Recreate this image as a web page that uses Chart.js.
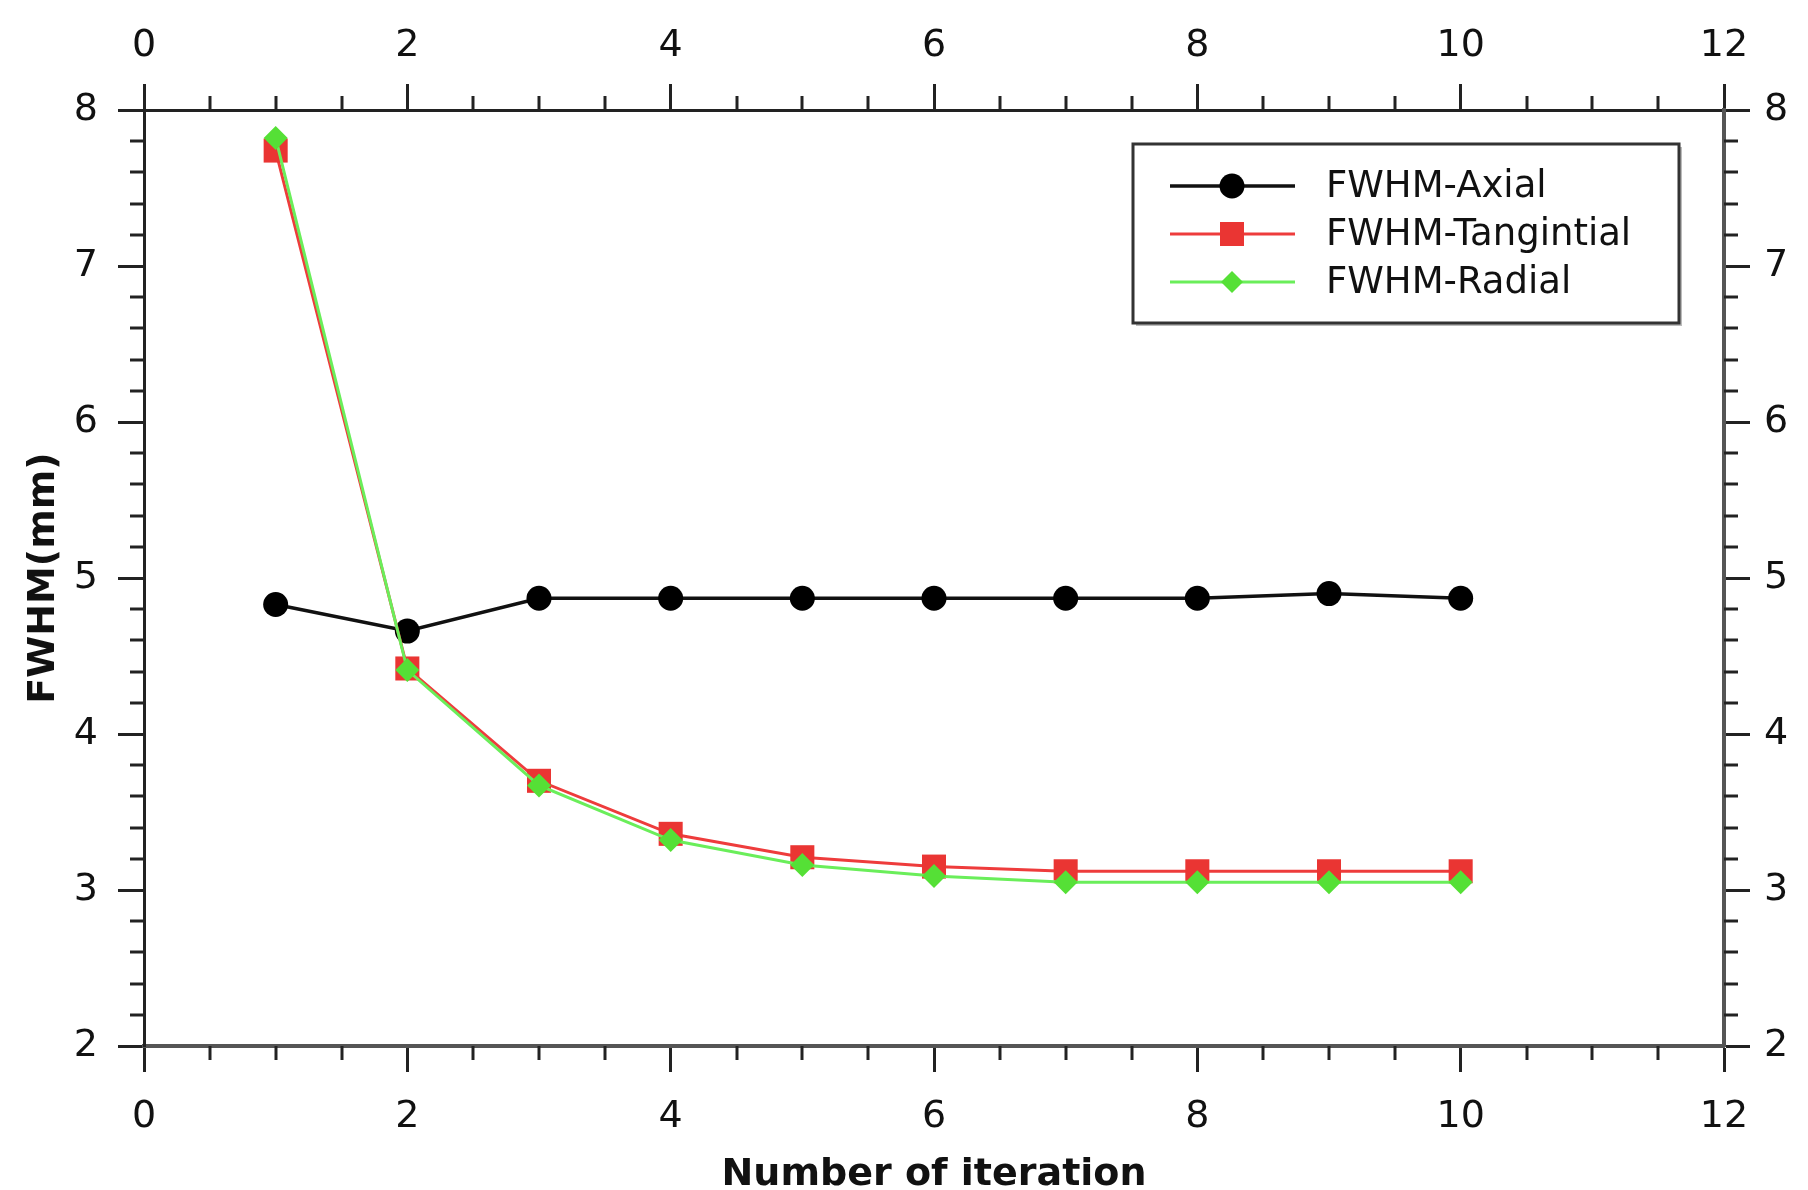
<!DOCTYPE html>
<html>
<head>
<meta charset="utf-8">
<script src="https://cdn.jsdelivr.net/npm/chart.js"></script>
<style>
  html, body { margin: 0; padding: 0; background: #fff; }
  canvas { display: block; }
</style>
</head>
<body>
<canvas id="fwhmChart" width="1808" height="1190"></canvas>
<script>
// values
var iterations = [1, 2, 3, 4, 5, 6, 7, 8, 9, 10];
var fwhmAxial = [4.83, 4.66, 4.87, 4.87, 4.87, 4.87, 4.87, 4.87, 4.90, 4.87];
var fwhmTangential = [7.74, 4.42, 3.70, 3.36, 3.21, 3.15, 3.12, 3.12, 3.12, 3.12];
var fwhmRadial = [7.82, 4.41, 3.67, 3.32, 3.16, 3.09, 3.05, 3.05, 3.05, 3.05];
var seriesNames = ['FWHM-Axial', 'FWHM-Tangintial', 'FWHM-Radial'];
var xTickValues = [0, 2, 4, 6, 8, 10, 12];
var yTickValues = [2, 3, 4, 5, 6, 7, 8];

var FONT = "'DejaVu Sans', Verdana, sans-serif";

function pts(ys) {
  return iterations.map(function (x, i) { return {x: x, y: ys[i]}; });
}

function drawMarker(ctx, style, r, x, y) {
  ctx.beginPath();
  if (style === 'circle') {
    ctx.arc(x, y, r, 0, Math.PI * 2);
  } else if (style === 'rect') {
    var s = r * Math.SQRT1_2;
    ctx.rect(x - s, y - s, 2 * s, 2 * s);
  } else {
    ctx.moveTo(x, y - r);
    ctx.lineTo(x + r, y);
    ctx.lineTo(x, y + r);
    ctx.lineTo(x - r, y);
    ctx.closePath();
  }
  ctx.fill();
}

// minor ticks on all four sides
var minorTicks = {
  id: 'minorTicks',
  afterDraw: function (chart) {
    var ctx = chart.ctx, a = chart.chartArea, len = 14;
    ctx.save();
    ctx.strokeStyle = '#222';
    ctx.lineWidth = 3;
    ['x', 'x2', 'y', 'y2'].forEach(function (id) {
      var s = chart.scales[id];
      var step = s.isHorizontal() ? 0.5 : 0.2;
      var major = s.isHorizontal() ? xTickValues : yTickValues;
      var n = Math.round((s.max - s.min) / step);
      for (var k = 0; k <= n; k++) {
        var v = s.min + k * step;
        if (major.some(function (m) { return Math.abs(m - v) < 1e-6; })) continue;
        var p = Math.round(s.getPixelForValue(v));
        ctx.beginPath();
        if (s.position === 'bottom') { ctx.moveTo(p, a.bottom); ctx.lineTo(p, a.bottom + len); }
        else if (s.position === 'top') { ctx.moveTo(p, a.top); ctx.lineTo(p, a.top - len); }
        else if (s.position === 'left') { ctx.moveTo(a.left, p); ctx.lineTo(a.left - len, p); }
        else { ctx.moveTo(a.right, p); ctx.lineTo(a.right + len, p); }
        ctx.stroke();
      }
    });
    ctx.restore();
  }
};

// boxed legend with line + marker samples
var boxLegend = {
  id: 'boxLegend',
  afterDraw: function (chart) {
    var ctx = chart.ctx, a = chart.chartArea;
    var bx = a.right - 591, by = a.top + 34, bw = 546, bh = 179;
    ctx.save();
    ctx.fillStyle = '#bbb';
    ctx.fillRect(bx + 3, by + 3, bw, bh);
    ctx.fillStyle = '#fff';
    ctx.fillRect(bx, by, bw, bh);
    ctx.strokeStyle = '#333';
    ctx.lineWidth = 3;
    ctx.strokeRect(bx, by, bw, bh);
    chart.data.datasets.forEach(function (ds, i) {
      var y = by + 42 + i * 48;
      ctx.strokeStyle = ds.borderColor;
      ctx.lineWidth = ds.borderWidth;
      ctx.beginPath();
      ctx.moveTo(bx + 37, y);
      ctx.lineTo(bx + 162, y);
      ctx.stroke();
      ctx.fillStyle = ds.pointBackgroundColor;
      drawMarker(ctx, ds.pointStyle, ds.legendRadius, bx + 99, y);
      ctx.fillStyle = '#111';
      ctx.font = '37px ' + FONT;
      ctx.textBaseline = 'middle';
      ctx.textAlign = 'left';
      ctx.fillText(ds.label, bx + 193, y + 1);
    });
    ctx.restore();
  }
};

function xAxis(pos, height, pad) {
  return {
    type: 'linear',
    position: pos,
    min: 0,
    max: 12,
    afterBuildTicks: function (s) { s.ticks = xTickValues.map(function (v) { return {value: v}; }); },
    afterFit: function (s) { s.height = height; },
    ticks: { font: { family: FONT, size: 38 }, color: '#111', padding: pad },
    grid: { drawOnChartArea: false, drawTicks: true, tickLength: 26, tickWidth: 3, color: '#222' },
    border: { display: true, color: pos === 'bottom' ? '#555' : '#222', width: pos === 'bottom' ? 4 : 3 }
  };
}

function yAxis(pos, width, pad) {
  return {
    type: 'linear',
    position: pos,
    min: 2,
    max: 8,
    afterBuildTicks: function (s) { s.ticks = yTickValues.map(function (v) { return {value: v}; }); },
    afterFit: function (s) { s.width = width; },
    ticks: { font: { family: FONT, size: 38 }, color: '#111', padding: pad },
    grid: { drawOnChartArea: false, drawTicks: true, tickLength: 26, tickWidth: 3, color: '#222' },
    border: { display: true, color: pos === 'right' ? '#555' : '#222', width: pos === 'right' ? 4 : 3 }
  };
}

var scaleX = xAxis('bottom', 144, 22);
scaleX.title = { display: true, text: 'Number of iteration', color: '#111',
  font: { family: FONT, size: 38, weight: 'bold' }, padding: { top: 0, bottom: -8 } };
var scaleX2 = xAxis('top', 110, 15);
var scaleY = yAxis('left', 144, 20);
scaleY.title = { display: true, text: 'FWHM(mm)', color: '#111',
  font: { family: FONT, size: 38, weight: 'bold' }, padding: { top: 21, bottom: 0 } };
var scaleY2 = yAxis('right', 84, 14);

var ctx = document.getElementById('fwhmChart').getContext('2d');
var fwhmChart = new Chart(ctx, {
  type: 'scatter',
  data: {
    datasets: [
      {
        label: seriesNames[0],
        data: pts(fwhmAxial),
        showLine: true,
        order: 3,
        borderColor: '#111',
        borderWidth: 3.5,
        pointStyle: 'circle',
        pointRadius: 12.5,
        pointBorderWidth: 0,
        pointBackgroundColor: '#000',
        legendRadius: 12.5
      },
      {
        label: seriesNames[1],
        data: pts(fwhmTangential),
        showLine: true,
        order: 2,
        borderColor: '#ee3c3c',
        borderWidth: 3,
        pointStyle: 'rect',
        pointRadius: 17,
        pointBorderWidth: 0,
        pointBackgroundColor: '#ea3533',
        legendRadius: 17
      },
      {
        label: seriesNames[2],
        data: pts(fwhmRadial),
        showLine: true,
        order: 1,
        borderColor: '#6aee5a',
        borderWidth: 3,
        pointStyle: 'rectRot',
        pointRadius: 12,
        pointBorderWidth: 0,
        pointBackgroundColor: '#55e036',
        legendRadius: 11
      }
    ]
  },
  options: {
    responsive: false,
    animation: false,
    layout: { padding: 0 },
    plugins: {
      legend: { display: false },
      tooltip: { enabled: false }
    },
    scales: { x: scaleX, x2: scaleX2, y: scaleY, y2: scaleY2 }
  },
  plugins: [minorTicks, boxLegend]
});
</script>
</body>
</html>
